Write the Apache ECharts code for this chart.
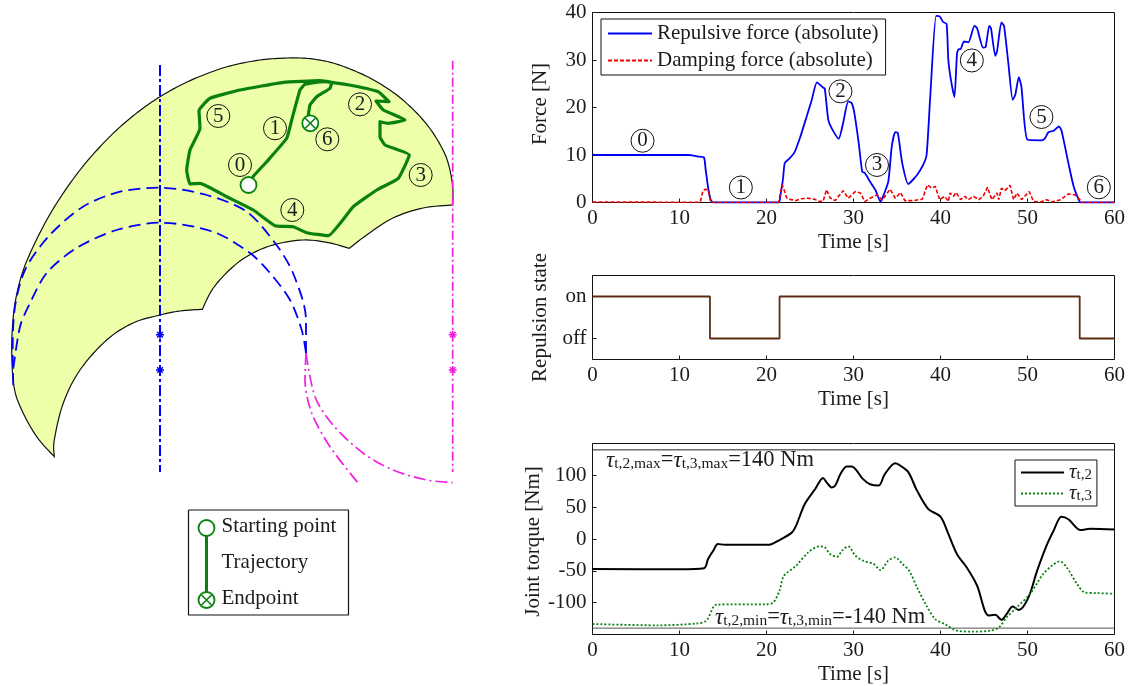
<!DOCTYPE html>
<html><head><meta charset="utf-8">
<style>html,body{margin:0;padding:0;background:#fff}#c{width:1128px;height:686px}</style>
<script src="https://cdn.jsdelivr.net/npm/echarts@6/dist/echarts.min.js"></script>
</head><body><div id="c"></div>
<script>
// ---------- Time series ----------
const repulsiveForce = [[0,10.1],[0.5,10],[5,10],[10,10],[11,10],[11.5,9.9],[12,9.7],[12.8,9.5],[13,7],[13.3,3],[13.6,0.5],[13.9,0],[21.4,0],[21.6,1.5],[21.9,5],[22.1,8.3],[22.6,9.2],[23.2,10.5],[23.9,13.9],[24.6,18],[25.2,21.6],[25.8,25.3],[26.5,24.2],[26.7,24],[27.1,17.4],[27.5,15.6],[28.3,13.4],[28.8,16.7],[29.4,21.3],[29.8,20.9],[30.1,18.8],[30.6,12.5],[31,6.5],[31.3,6.2],[31.9,4.4],[32.5,2.7],[33.1,0.2],[33.4,1.3],[34,4.4],[34.4,11.8],[34.8,14.8],[35.1,14.6],[35.6,8.3],[36.3,3.9],[37.3,5.8],[38,7.9],[38.4,10],[38.8,21.6],[39.5,39.3],[39.9,39.2],[40.3,38],[40.7,37.6],[40.9,30],[41.2,25.8],[41.6,22.2],[41.9,31.4],[42.1,32.3],[42.3,32.3],[42.7,33.9],[43.2,33.7],[43.9,37.2],[44.2,36.7],[44.9,32.6],[45.2,32.8],[45.6,37.2],[45.8,36.7],[46.3,30.9],[46.5,31.8],[47,37.9],[47.3,37.2],[47.8,29.3],[48.3,21.6],[48.6,22.7],[49,26.4],[49.3,24.4],[50,13.2],[51.6,13.1],[52,13.5],[52.4,14.8],[53,15.1],[53.6,16],[53.9,15.2],[54.7,8.3],[55.3,3.4],[55.9,0.5],[56.1,0],[60,0]];
const dampingForce = [[0,0.1],[12,0.05],[12.4,0.2],[12.7,2.5],[13,2.8],[13.3,2.6],[13.6,0],[21.4,0],[21.6,2],[21.8,3.7],[22,2.8],[22.3,1],[22.8,0.6],[23.4,0.4],[24,0.8],[24.8,0.9],[25.5,0.7],[26,0.3],[26.5,0.2],[26.9,2.7],[27.3,1],[27.9,0.4],[28.8,2.5],[29.4,0.9],[30.2,2.3],[30.8,2],[31.3,0.2],[31.9,0.9],[32.7,1.6],[33.3,0.5],[34.2,2.8],[34.8,0.9],[35.4,2.1],[35.9,0.4],[36.9,0.4],[37.9,0.7],[38.5,3.7],[39,3],[39.4,3.4],[39.9,0.6],[40.5,1.3],[40.9,0.2],[41.1,2],[41.5,1.3],[41.8,2.1],[42.3,0.6],[42.8,1.3],[43.2,0.6],[43.8,1.3],[44.4,0.6],[44.9,1.3],[45.4,3.2],[45.9,0.6],[46.5,2],[46.7,0.6],[47,3],[47.4,2.5],[48,3.6],[48.4,0.6],[48.8,2],[49.3,0.6],[50.2,2.3],[50.7,0.2],[51.5,0.1],[52.2,0.6],[52.8,0.1],[53.8,0.6],[54.7,1.8],[55.5,1.6],[56,0.6],[56.2,0],[60,0]];
const repulsionState = [[0,1],[13.5,1],[13.5,0],[21.5,0],[21.5,1],[56,1],[56,0],[60,0]];
const torque2 = [[0,-47],[10,-47.5],[12.8,-46],[13.3,-31],[13.9,-18],[14.4,-8],[15.2,-9],[20.3,-9],[21.3,-3],[22.9,10],[23.4,21],[24.4,55],[25.6,78.5],[26.5,96],[26.9,89],[27.5,81],[27.9,84],[28.5,102],[29.2,114],[29.8,114],[31.1,94],[31.9,86],[32.9,84],[33.6,102],[34.8,119],[35.4,115],[36.3,105],[37.3,76],[38.6,47],[40,35],[40.9,8],[41.9,-24],[43,-44.5],[44.2,-73],[45.5,-120],[46.3,-119],[47,-127],[47.6,-118],[48.3,-106],[49,-111.5],[50.1,-92],[51.1,-50],[52.2,-10],[53,13],[53.9,35],[54.7,31],[56.1,14],[57.2,16],[60,15]];
const torque3 = [[0,-133.5],[7.5,-135.6],[12.1,-132.5],[13.1,-128],[14.3,-103],[20,-102.5],[20.8,-99.5],[21.5,-81],[22,-58],[23.4,-42],[24.8,-21],[26.1,-11.5],[26.7,-13],[27.3,-23.5],[28.1,-28],[28.7,-18],[29.4,-11.5],[30.2,-26],[31.1,-34],[32.3,-39],[33.1,-49],[34,-34],[34.8,-29],[35.6,-39],[36.4,-50],[37.3,-76],[38.4,-105],[39.4,-126],[40.5,-133.5],[41.9,-144],[43.8,-145.5],[45.7,-144],[46.7,-139],[47.6,-123],[48.8,-107],[50.3,-86],[51.8,-55],[52.8,-42],[53.7,-35],[54.5,-44.5],[55.7,-70.7],[56.6,-84],[58,-85],[60,-86]];
const torqueUpper = [[0,140],[60,140]];
const torqueLower = [[0,-140],[60,-140]];
const forcePhases = [[5.75,13,'0'],[17.05,3.16,'1'],[28.5,23.4,'2'],[32.7,7.9,'3'],[43.6,29.9,'4'],[51.6,18,'5'],[58.2,3.2,'6']];
const stateTicks = [0,1];
const stateNames = ['off','on'];
const torqueTicks = [-100,-50,0,50,100];
const forceSeriesNames = ['Repulsive force (absolute)','Damping force (absolute)'];
const torqueSeriesNames = ['t2','t3'];

// ---------- Workspace diagram ----------
const outerBoundary = [[452.7,205],[452.7,186.7],[449,166],[443,150],[431,130],[416.7,113],[398,96],[376.7,81.7],[355,71],[333,63],[316,59.5],[300,58],[280,58.3],[260,60],[238,64],[216.7,70],[187,82],[160,96.7],[138,112],[116.7,130],[97,150],[80,170],[62,195],[46.7,220],[33,247],[23.3,270],[17,293],[13.3,316.7],[11.7,350],[14,386.7],[21.7,410],[36.7,436.7],[54.3,456.7]];
const innerBoundaryA = [[54.3,456.7],[54.3,440],[63.3,403],[80,370],[106.7,340],[133,323],[160,315],[180,311],[202.3,309.3]];
const innerBoundaryB = [[202.3,309.3],[213.3,288],[233,266.7],[253,253],[276.7,244],[303,240],[326.7,242.3],[349.3,248.3]];
const innerBoundaryC = [[349.3,248.3],[366.7,235],[393,218],[423,208],[452.7,205]];
const blueArcOuter = [[306,353],[306,320],[293,273],[275,243],[246.7,211.7],[206.7,195],[160,187.7],[120,191.7],[83,206.7],[48.3,236.7],[25,270],[15,306.7],[12.7,350],[13.3,388]];
const blueArcInner = [[306,353],[301.7,330],[290,300],[270,273],[250,253],[213,231.7],[160,222.7],[116.7,230],[76.7,248],[46.7,273],[28.3,306.7],[20,326.7],[12.7,373]];
const magentaArcA = [[306,353],[315,396.7],[333,425],[363,453],[393,470],[426.7,480],[452.7,482.7]];
const magentaArcB = [[306,353],[305,380],[311.7,413],[330,446.7],[358.3,483.3]];
const blueAxis = [[160,65],[160,472]];
const magentaAxis = [[452.7,60.7],[452.7,472]];
const blueStars = [[160,334.7],[160,370]];
const magentaStars = [[452.7,334.7],[452.7,370]];
const trajectory = [[248.5,185],[253,176.7],[266.7,161.7],[286.7,138.3],[291.7,120],[300,90],[305,84.3],[323.3,81.7],[331.7,82.3],[353.3,85.7],[378.3,91.7],[389,101.7],[376,101],[383.3,110],[405,120],[388.3,123.3],[380,121.7],[380,136.7],[385,145],[409.3,155],[398.3,178.3],[376.7,190],[353.3,206.7],[328.3,235.7],[306.7,232.7],[293.3,226.7],[275,225.7],[253.3,210],[226.7,196.7],[200,183.3],[190,184],[186.7,170],[190,150],[200,128.3],[199,110.7],[210,98.3],[240,90],[283.3,82.3],[320,80.7],[331.7,82.3],[330,88.3],[316.7,96.7],[310,105],[308.3,116.7],[310.3,123.3]];
const startPoints = [[248.5,185],[206.5,528]];
const endPoints = [[310.3,123.3],[206.5,600]];
const keyLine = [[206.5,528],[206.5,600]];
const keyFrame = [[188.5,510],[348.5,510],[348.5,615],[188.5,615],[188.5,510]];
const keyLabels = [[221,526,'Starting point'],[221,562,'Trajectory'],[221,598,'Endpoint']];
const diagramPhases = [[240,165,'0'],[275,128.3,'1'],[360,104.3,'2'],[420.7,175,'3'],[292.3,210,'4'],[218.3,116,'5'],[327.3,139.3,'6']];

// ---------- Rendering ----------
const FONT = '"Liberation Serif", serif';
const INK = '#1c1c1c';
const base = {fontFamily:FONT,fontSize:21,color:INK};
const GREEN='#0a800f', BLUE='#0000f5', MAG='#ee22dd';
const star='path://M0,5L10,5M5,0L5,10M1.5,1.5L8.5,8.5M1.5,8.5L8.5,1.5';
const cross='path://M0,0L10,10M0,10L10,0';

function catmull(pts){
  const out=[];
  for(let i=0;i<pts.length-1;i++){
    const p0=pts[Math.max(i-1,0)],p1=pts[i],p2=pts[i+1],p3=pts[Math.min(i+2,pts.length-1)];
    for(let k=0;k<8;k++){
      const t=k/8,t2=t*t,t3=t2*t;
      out.push([0,1].map(d=>0.5*(2*p1[d]+(p2[d]-p0[d])*t+(2*p0[d]-5*p1[d]+4*p2[d]-p3[d])*t2+(3*p1[d]-p0[d]-3*p2[d]+p3[d])*t3)));
    }
  }
  out.push(pts[pts.length-1]);
  return out;
}
function frameAxisX(grid){
  return {type:'value',gridIndex:grid,min:0,max:60,interval:10,
    name:'Time [s]',nameLocation:'middle',nameGap:29,nameTextStyle:base,
    axisLine:{show:false,onZero:false},splitLine:{show:false},
    axisTick:{inside:true,length:4,lineStyle:{color:INK}},
    axisLabel:Object.assign({margin:5},base,{showMinLabel:true,showMaxLabel:true})};
}
function yAxisOf(grid,name,extra,pad){
  return Object.assign({type:'value',gridIndex:grid,name:name,nameLocation:'middle',nameGap:42,nameRotate:90,
    nameTextStyle:Object.assign({},base,{padding:pad}),
    axisLine:{show:false,onZero:false},splitLine:{show:false},
    axisTick:{inside:true,length:4,lineStyle:{color:INK}},
    axisLabel:Object.assign({margin:6},base)},extra);
}
function circled(data,xi,yi,size){
  return {type:'scatter',xAxisIndex:xi,yAxisIndex:yi,symbol:'circle',symbolSize:size,z:6,silent:true,
    data:data.map(d=>({value:[d[0],d[1]],name:d[2]})),
    itemStyle:{color:'rgba(0,0,0,0)',borderColor:'#111',borderWidth:1,opacity:1},
    label:{show:true,position:'inside',formatter:'{b}',fontFamily:FONT,fontSize:21,color:INK}};
}
const dline=(data,color,type,width,extra)=>Object.assign({type:'line',xAxisIndex:3,yAxisIndex:3,data,symbol:'none',silent:true,z:3,clip:false,
  lineStyle:{color,type,width}},extra||{});
const tau=(s)=>`{m|τ}{s|${s}}`;
const noteRich={m:{fontFamily:FONT,fontStyle:'italic',fontSize:23,fill:INK},s:{fontFamily:FONT,fontSize:15.5,fill:INK,verticalAlign:'bottom',padding:[6,0,0,0]},e:{fontFamily:FONT,fontSize:22.5,fill:INK}};
const grids=[
  {left:592.5,top:12.5,width:522,height:190,show:true,borderColor:'#111',borderWidth:1,backgroundColor:'transparent'},
  {left:592.5,top:275.5,width:522,height:84,show:true,borderColor:'#111',borderWidth:1,backgroundColor:'transparent'},
  {left:592.5,top:443.5,width:522,height:191,show:true,borderColor:'#111',borderWidth:1,backgroundColor:'transparent'},
  {left:0,top:0,width:1128,height:686,show:false}
];
const option={
  animation:false,backgroundColor:'#fff',textStyle:{fontFamily:FONT},
  grid:grids,
  xAxis:[frameAxisX(0),frameAxisX(1),frameAxisX(2),
    {type:'value',gridIndex:3,min:0,max:1128,show:false}],
  yAxis:[
    yAxisOf(0,'Force [N]',{min:0,max:40,interval:10},[0,0,0,7]),
    yAxisOf(1,'Repulsion state',{min:-0.5,max:1.5,interval:1,
       axisTick:{inside:true,length:4,lineStyle:{color:INK},customValues:stateTicks},
       axisLabel:Object.assign({margin:6},base,{customValues:stateTicks,formatter:v=>stateNames[v]})},[0,0,0,0]),
    yAxisOf(2,'Joint torque [Nm]',{min:-150,max:150,interval:50,
       axisTick:{inside:true,length:4,lineStyle:{color:INK},customValues:torqueTicks},
       axisLabel:Object.assign({margin:6},base,{customValues:torqueTicks})},[0,5,0,0]),
    {type:'value',gridIndex:3,min:0,max:686,inverse:true,show:false}],
  legend:[
    {show:true,orient:'vertical',left:601,top:19,data:forceSeriesNames,selectedMode:false,
     backgroundColor:'#fff',borderColor:'#111',borderWidth:1,padding:[4,7,4,6],itemWidth:44,itemHeight:14,itemGap:6,
     textStyle:base,itemStyle:{opacity:0},z:8},
    {show:true,orient:'vertical',left:1015,top:460,data:torqueSeriesNames,selectedMode:false,
     backgroundColor:'#fff',borderColor:'#111',borderWidth:1,padding:[2,5,2,5],itemWidth:43,itemHeight:14,itemGap:0,z:8,
     itemStyle:{opacity:0},
     formatter:n=>n==='t2'?tau('t,2'):tau('t,3'),
     textStyle:{fontFamily:FONT,fontSize:20,color:INK,rich:{m:{fontFamily:FONT,fontStyle:'italic',fontSize:21,color:INK},s:{fontFamily:FONT,fontSize:15,color:INK,verticalAlign:'bottom',padding:[6,0,0,0]}}}}
  ],
  series:[
    {type:'custom',xAxisIndex:3,yAxisIndex:3,data:[[0,0]],silent:true,z:1,clip:false,
     renderItem:(p,api)=>{
       let pts=[];
       [outerBoundary,innerBoundaryA,innerBoundaryB,innerBoundaryC].forEach(s=>{pts=pts.concat(catmull(s));});
       return {type:'polygon',shape:{points:pts.map(q=>api.coord(q))},
         style:{fill:'#eeffa9',stroke:'#111',lineWidth:1.2}};
     }},
    dline(blueArcOuter,BLUE,[12,6],1.8,{smooth:0.3}),
    dline(blueArcInner,BLUE,[12,6],1.8,{smooth:0.3}),
    dline(magentaArcA,MAG,[12,4,2,4],1.7,{smooth:0.3}),
    dline(magentaArcB,MAG,[12,4,2,4],1.7,{smooth:0.3}),
    dline(blueAxis,BLUE,[11,3,3,3],2),
    dline(magentaAxis,MAG,[9,3,2,3],1.7),
    {type:'scatter',xAxisIndex:3,yAxisIndex:3,data:blueStars,symbol:star,symbolSize:8,silent:true,z:4,itemStyle:{color:BLUE,borderColor:BLUE,borderWidth:1.5,opacity:1}},
    {type:'scatter',xAxisIndex:3,yAxisIndex:3,data:magentaStars,symbol:star,symbolSize:8,silent:true,z:4,itemStyle:{color:MAG,borderColor:MAG,borderWidth:1.5,opacity:1}},
    dline(trajectory,GREEN,'solid',3.2,{z:4,smooth:0.12,lineStyle:{color:GREEN,width:3.2,join:'round'}}),
    dline(keyLine,GREEN,'solid',3,{z:4}),
    dline(keyFrame,'#111','solid',1.2,{z:2}),
    {type:'scatter',xAxisIndex:3,yAxisIndex:3,data:startPoints,symbol:'circle',symbolSize:16,silent:true,z:5,itemStyle:{color:'#fff',borderColor:GREEN,borderWidth:1.8,opacity:1}},
    {type:'scatter',xAxisIndex:3,yAxisIndex:3,data:endPoints,symbol:'circle',symbolSize:16,silent:true,z:5,itemStyle:{color:'#fff',borderColor:GREEN,borderWidth:1.8,opacity:1}},
    {type:'scatter',xAxisIndex:3,yAxisIndex:3,data:endPoints,symbol:cross,symbolSize:10,silent:true,z:6,itemStyle:{color:GREEN,borderColor:GREEN,borderWidth:1.6,opacity:1}},
    {type:'scatter',xAxisIndex:3,yAxisIndex:3,symbolSize:1,silent:true,z:6,itemStyle:{color:'rgba(0,0,0,0)',opacity:1},
     data:keyLabels.map(d=>({value:[d[0],d[1]],name:d[2]})),
     label:Object.assign({show:true,position:'right',distance:0,formatter:'{b}'},base)},
    circled(diagramPhases,3,3,23),
    {name:forceSeriesNames[0],type:'line',xAxisIndex:0,yAxisIndex:0,data:repulsiveForce,symbol:'none',silent:true,z:3,smooth:0.2,lineStyle:{color:BLUE,width:1.8},itemStyle:{color:BLUE}},
    {name:forceSeriesNames[1],type:'line',xAxisIndex:0,yAxisIndex:0,data:dampingForce,symbol:'none',silent:true,z:4,lineStyle:{color:'#f00000',width:1.6,type:[4,2]},itemStyle:{color:'#f00000'}},
    circled(forcePhases,0,0,23),
    {name:'state',type:'line',xAxisIndex:1,yAxisIndex:1,data:repulsionState,symbol:'none',silent:true,z:3,lineStyle:{color:'#5e2a10',width:1.8}},
    {name:'upper',type:'line',xAxisIndex:2,yAxisIndex:2,data:torqueUpper,symbol:'none',silent:true,z:2,lineStyle:{color:'#222',width:1}},
    {name:'lower',type:'line',xAxisIndex:2,yAxisIndex:2,data:torqueLower,symbol:'none',silent:true,z:2,lineStyle:{color:'#555',width:1}},
    {name:torqueSeriesNames[0],type:'line',xAxisIndex:2,yAxisIndex:2,data:torque2,symbol:'none',silent:true,z:3,smooth:0.3,lineStyle:{color:'#000',width:2},itemStyle:{color:'#000'}},
    {name:torqueSeriesNames[1],type:'line',xAxisIndex:2,yAxisIndex:2,data:torque3,symbol:'none',silent:true,z:4,smooth:0.3,lineStyle:{color:GREEN,width:1.8,type:[2,2]},itemStyle:{color:GREEN}},
  ],
  graphic:[
    {type:'text',left:606,top:449,z:20,style:{fontFamily:FONT,fontSize:22,fill:INK,
      text:tau('t,2,max')+'{e|=}'+tau('t,3,max')+'{e|=140 Nm}',rich:noteRich}},
    {type:'text',left:715,top:606,z:20,style:{fontFamily:FONT,fontSize:22,fill:INK,
      text:tau('t,2,min')+'{e|=}'+tau('t,3,min')+'{e|=-140 Nm}',rich:noteRich}}
  ]
};
echarts.init(document.getElementById('c'),null,{renderer:'canvas'}).setOption(option);
</script></body></html>
